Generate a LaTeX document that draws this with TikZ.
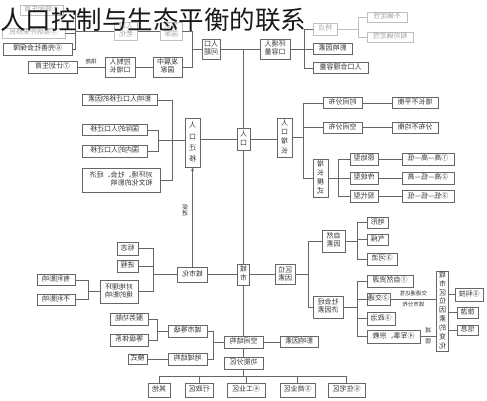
\documentclass[tikz,border=0pt]{standalone}
\usepackage{fontspec}
\usepackage{graphicx}
\newfontfamily\cjk{Noto Sans CJK SC}
\usetikzlibrary{arrows.meta}
\newcommand\M[1]{\reflectbox{\def\arraystretch{0.95}\begin{tabular}{@{}c@{}}#1\end{tabular}}}
\newcommand\ML[1]{\reflectbox{\def\arraystretch{0.95}\begin{tabular}{@{}l@{}}#1\end{tabular}}}
\newcommand\V[2][1]{\reflectbox{\def\arraystretch{#1}\begin{tabular}{@{}c@{}}#2\end{tabular}}}
\newcommand\B[7][bx]{\node[#1,minimum width=#5pt,minimum height=#6pt] (#2) at (#3,#4) {#7};}
\begin{document}
\begin{tikzpicture}[x=1pt,y=-1pt,
  bx/.style={draw=black!60, line width=0.5pt, fill=white, inner sep=0pt, text=black!80, font=\cjk\fontsize{7}{8.4}\selectfont},
  fd/.style={bx, draw=black!25, text=black!35},
  ln/.style={draw=black!60, line width=0.5pt},
  fl/.style={draw=black!25, line width=0.5pt},
  lb/.style={inner sep=0pt, text=black!80, font=\cjk\fontsize{5.5}{6}\selectfont}]
\useasboundingbox (0,0) rectangle (487,400);
% ---------- top left ----------
\B[fd]{tl1}{41.5}{10}{43}{10}{\M{④鼓励生育}}
\B[fd]{tl2}{33.5}{33}{63}{10}{\M{⑤吸纳外来移民}}
\B{tl3}{37.5}{49}{69}{12}{\M{⑥完善社会保障}}
\B[fd]{rlh}{126}{31}{23}{18}{\M{人口\\老化}}
\B[fd]{fdgj}{171}{31}{22}{18}{\M{发达\\国家}}
\B{fzzgj}{167.5}{67}{29}{20}{\M{发展中\\国家}}
\B{kzrk}{120}{67}{30}{20}{\M{控制人\\口增长}}
\B{jhsy}{52.5}{67}{49}{12}{\M{⑦计划生育}}
\B{rkwt}{211}{49}{18}{20}{\M{人口\\问题}}
% ---------- top right ----------
\B{hjrl}{275}{49}{30}{20}{\M{环境人\\口容量}}
\B[fd]{td}{325}{29}{24}{12}{\M{特点}}
\B{yxa}{332.5}{49}{39}{11}{\M{影响因素}}
\B{hlrl}{340.5}{68}{55}{11}{\M{人口合理容量}}
\B[fd]{bqd}{387}{17}{40}{10}{\M{不确定性}}
\B[fd]{xdqd}{390}{37}{46}{10}{\M{相对确定性}}
% ---------- centre ----------
\B{rk}{243.5}{139}{13}{22}{\V[1.05]{人\\口}}
\B{cs}{243.5}{274.5}{12}{21}{\V[1.0]{城\\市}}
% ---------- migration ----------
\B{rkqy}{192.5}{142.5}{15}{49}{\V[1.35]{人\\口\\迁\\移}}
\B{ma}{119.5}{100}{75}{11}{\M{影响人口迁移的因素}}
\B{mb}{114.5}{130}{65}{11}{\M{国际的人口迁移}}
\B{mc}{114.5}{151}{65}{12}{\M{国内的人口迁移}}
\B{md}{121}{180}{78}{24}{\ML{对环境、社会、经济\\和文化的影响}}
% ---------- growth ----------
\B{rkzz}{284.5}{137.5}{15}{39}{\V[1.1]{人\\口\\增\\长}}
\B{sjfb}{342.5}{103}{39}{11}{\M{时间分布}}
\B{kjfb}{342.5}{127.5}{39}{11}{\M{空间分布}}
\B{zzbph}{415}{103}{46}{11}{\M{增长不平衡}}
\B{fbbjh}{415}{127.5}{46}{11}{\M{分布不均衡}}
\B{zzms}{320.5}{178}{15}{38}{\V[1.05]{增\\长\\模\\式}}
\B{ysx}{364}{159}{28}{12}{\M{原始型}}
\B{ctx}{364}{178}{28}{12}{\M{传统型}}
\B{xdx}{364}{196.5}{28}{12}{\M{现代型}}
\B{mxa}{428}{159}{52}{12}{\M{①高—高—低}}
\B{mxb}{428}{178}{52}{12}{\M{②高—低—高}}
\B{mxc}{428}{196.5}{52}{12}{\M{③低—低—低}}
% ---------- urbanisation ----------
\B{csh}{192.5}{274.5}{30}{15}{\M{城市化}}
\B{bz}{127.5}{248.5}{21}{13}{\M{标志}}
\B{jc}{127.5}{266}{21}{12}{\M{进程}}
\B{dhj}{119}{291.5}{38}{23}{\M{对地理环\\境的影响}}
\B{ylyx}{56}{280}{38}{11}{\M{有利影响}}
\B{blyx}{56}{299.5}{38}{11}{\M{不利影响}}
% ---------- spatial structure ----------
\B{kjjg}{243.5}{342}{39}{12}{\M{空间结构}}
\B{gnfq}{243.5}{363}{39}{12}{\M{功能分区}}
\B{yxb}{299}{342}{38}{11}{\M{影响因素}}
\B{csdj}{187.5}{331}{39}{12}{\M{城市等级}}
\B{dyjg}{187.5}{359}{39}{12}{\M{地域结构}}
\B{fwgn}{129}{319}{38}{12}{\M{服务功能}}
\B{djtx}{129}{340}{38}{12}{\M{等级体系}}
\B{ms}{137.5}{359}{19}{10}{\M{模式}}
\B{qt}{159}{390}{22}{14}{\M{其他}}
\B{xzq}{199}{390}{28}{14}{\M{行政区}}
\B{gyq}{246}{390}{38}{14}{\M{④工业区}}
\B{syq}{297.5}{390}{35}{14}{\M{⑤商业区}}
\B{zzq}{346.5}{390}{37}{14}{\M{⑥住宅区}}
% ---------- location factors ----------
\B{qwys}{285}{274.5}{20}{20}{\M{区位\\因素}}
\B{zrys}{333.5}{241}{23}{22}{\M{自然\\因素}}
\B{shjj}{328}{307}{30}{22}{\M{社会经\\济因素}}
\B{dx}{377.5}{222.5}{21}{11}{\M{地形}}
\B{qh}{377.5}{239.5}{21}{11}{\M{气候}}
\B{hl}{382}{259}{30}{12}{\M{③河流}}
\B{zrzy}{390}{281}{46}{12}{\M{①自然资源}}
\B{jt}{378.5}{299}{23}{12}{\M{②交通}}
\B{zz}{381}{318.5}{28}{13}{\M{③政治}}
\B{jszj}{393.5}{336.5}{53}{13}{\M{④军事、宗教}}
\B{bh}{442.5}{311}{12}{80}{\V[1.05]{城\\市\\区\\位\\因\\素\\的\\变\\化}}
\B{kj}{469}{294.5}{28}{13}{\M{⑤科技}}
\B{ly}{467.5}{312.5}{21}{11}{\M{旅游}}
\B{xx}{467.5}{330}{21}{10}{\M{信息}}
% ---------- spine coordinates ----------
\coordinate (xa) at (75,0);  \coordinate (xb) at (192,0);
\coordinate (xc) at (304,0); \coordinate (xd) at (358,0);
\coordinate (xe) at (172,0); \coordinate (xf) at (158,0);
\coordinate (xg) at (303,0); \coordinate (xh) at (338,0);
\coordinate (xi) at (153,0); \coordinate (xj) at (88,0);
\coordinate (xk) at (213,0); \coordinate (xl) at (157,0);
\coordinate (xm) at (308,0); \coordinate (xn) at (357,0);
\coordinate (ct) at (243.5,49); \coordinate (bary) at (0,376.5);
\coordinate (j1) at (158,140.5);
% ---------- connectors ----------
\begin{scope}[on background layer/.try]
\end{scope}
\draw[fl] (tl1.east) -- (tl1.east -| xa);
\draw[ln] (tl1.east -| xa) -- (tl3.east -| xa) -- (tl3.east);
\draw[ln] (tl2.east) -- (tl2.east -| xa);
\draw[ln] (rlh.west) -- (rlh.west -| xa);
\draw[ln] (rkwt.west) -- (rkwt.west -| xb);
\draw[ln] (fdgj.east) -- (fdgj.east -| xb) -- (fzzgj.east -| xb) -- (fzzgj.east);
\draw[ln] (fdgj.west) -- (rlh.east);
\draw[ln] (fzzgj.west) -- (kzrk.east);
\draw[ln] (kzrk.west) -- node[lb, above=2pt] {\M{措施}} (jhsy.east);
\draw[ln] (rkwt.east) -- (hjrl.west);
\draw[ln] (ct) -- (rk.north);
\draw[ln] (rk.south) -- (cs.north);
\draw[ln] (cs.south) -- (kjjg.north);
\draw[ln] (kjjg.south) -- (gnfq.north);
\draw[ln] (gnfq.south) -- (gnfq.south |- bary);
\draw[ln] (qt.north |- bary) -- (zzq.north |- bary);
\foreach \n in {qt,xzq,gyq,syq,zzq} \draw[ln] (\n.north) -- (\n.north |- bary);
\draw[ln] (hjrl.east) -- (hjrl.east -| xc);
\draw[ln] (td.west) -- (td.west -| xc) -- (hlrl.west -| xc) -- (hlrl.west);
\draw[ln] (yxa.west) -- (yxa.west -| xc);
\draw[fl] (td.east) -- (td.east -| xd);
\draw[fl] (bqd.west) -- (bqd.west -| xd) -- (xdqd.west -| xd) -- (xdqd.west);
\draw[ln] (ma.east) -- (ma.east -| xe) -- (md.east -| xe) -- (md.east);
\draw[ln] (mb.east) -- (mb.east -| xf) -- (mc.east -| xf) -- (mc.east);
\draw[ln] (j1) -- (j1 -| rkqy.west);
\draw[ln] (rk.west) -- (rk.west -| rkqy.east);
\draw[ln] (rk.east) -- (rk.east -| rkzz.west);
\draw[ln] (rkzz.east) -- (rkzz.east -| xg);
\draw[ln] (sjfb.west) -- (sjfb.west -| xg) -- (zzms.west -| xg) -- (zzms.west);
\draw[ln] (kjfb.west) -- (kjfb.west -| xg);
\draw[ln] (sjfb.east) -- (zzbph.west);
\draw[ln] (kjfb.east) -- (fbbjh.west);
\draw[ln] (zzms.east) -- (zzms.east -| xh);
\draw[ln] (ysx.west) -- (ysx.west -| xh) -- (xdx.west -| xh) -- (xdx.west);
\draw[ln] (ctx.west) -- (ctx.west -| xh);
\draw[ln] (ysx.east) -- (mxa.west);
\draw[ln] (ctx.east) -- (mxb.west);
\draw[ln] (xdx.east) -- (mxc.west);
\draw[ln, -{Stealth[length=4pt,width=3pt]}] (csh.north) -- (rkqy.south);
\node[lb, font=\cjk\fontsize{6}{7}\selectfont] (cj) at (185,211) {\V[0.9]{促\\进}};
\draw[ln] (cs.west) -- (csh.east);
\draw[ln] (csh.west) -- (csh.west -| xi);
\draw[ln] (bz.east) -- (bz.east -| xi) -- (dhj.east -| xi) -- (dhj.east);
\draw[ln] (jc.east) -- (jc.east -| xi);
\draw[ln] (dhj.west) -- (dhj.west -| xj);
\draw[ln] (ylyx.east) -- (ylyx.east -| xj) -- (blyx.east -| xj) -- (blyx.east);
\draw[ln] (kjjg.west) -- (kjjg.west -| xk);
\draw[ln] (csdj.east) -- (csdj.east -| xk) -- (dyjg.east -| xk) -- (dyjg.east);
\draw[ln] (csdj.west) -- (csdj.west -| xl);
\draw[ln] (fwgn.east) -- (fwgn.east -| xl) -- (djtx.east -| xl) -- (djtx.east);
\draw[ln] (dyjg.west) -- (ms.east);
\draw[ln] (kjjg.east) -- (yxb.west);
\draw[ln] (cs.east) -- (qwys.west);
\draw[ln] (qwys.east) -- (qwys.east -| xm);
\draw[ln] (zrys.west) -- (zrys.west -| xm) -- (shjj.west -| xm) -- (shjj.west);
\draw[ln] (zrys.east) -- (zrys.east -| xn);
\draw[ln] (dx.west) -- (dx.west -| xn) -- (hl.west -| xn) -- (hl.west);
\draw[ln] (qh.west) -- (qh.west -| xn);
\draw[ln] (shjj.east) -- (shjj.east -| xn);
\draw[ln] (zrzy.west) -- (zrzy.west -| xn) -- (jszj.west -| xn) -- (jszj.west);
\draw[ln] (jt.west) -- (jt.west -| xn);
\draw[ln] (zz.west) -- (zz.west -| xn);
\draw[ln] (jt.east) -- node[lb, above=2pt] {\M{交通通达性}} node[lb, below=2.5pt] {\M{城市分布}} (jt.east -| bh.west);
\draw[ln] (jszj.east) -- node[lb, font=\cjk\fontsize{6}{7}\selectfont, above=2pt] {\M{减}} node[lb, font=\cjk\fontsize{6}{7}\selectfont, below=2pt] {\M{弱}} (jszj.east -| bh.west);
\draw[ln] (kj.west) -- (kj.west -| bh.east);
\draw[ln] (ly.west) -- (ly.west -| bh.east);
\draw[ln] (xx.west) -- (xx.west -| bh.east);
% ---------- title ----------
\node[anchor=west, inner sep=0pt, text=black!90, font=\cjk\fontsize{25.5}{26}\selectfont] (title) at (0,20) {人口控制与生态平衡的联系};
\end{tikzpicture}
\end{document}
